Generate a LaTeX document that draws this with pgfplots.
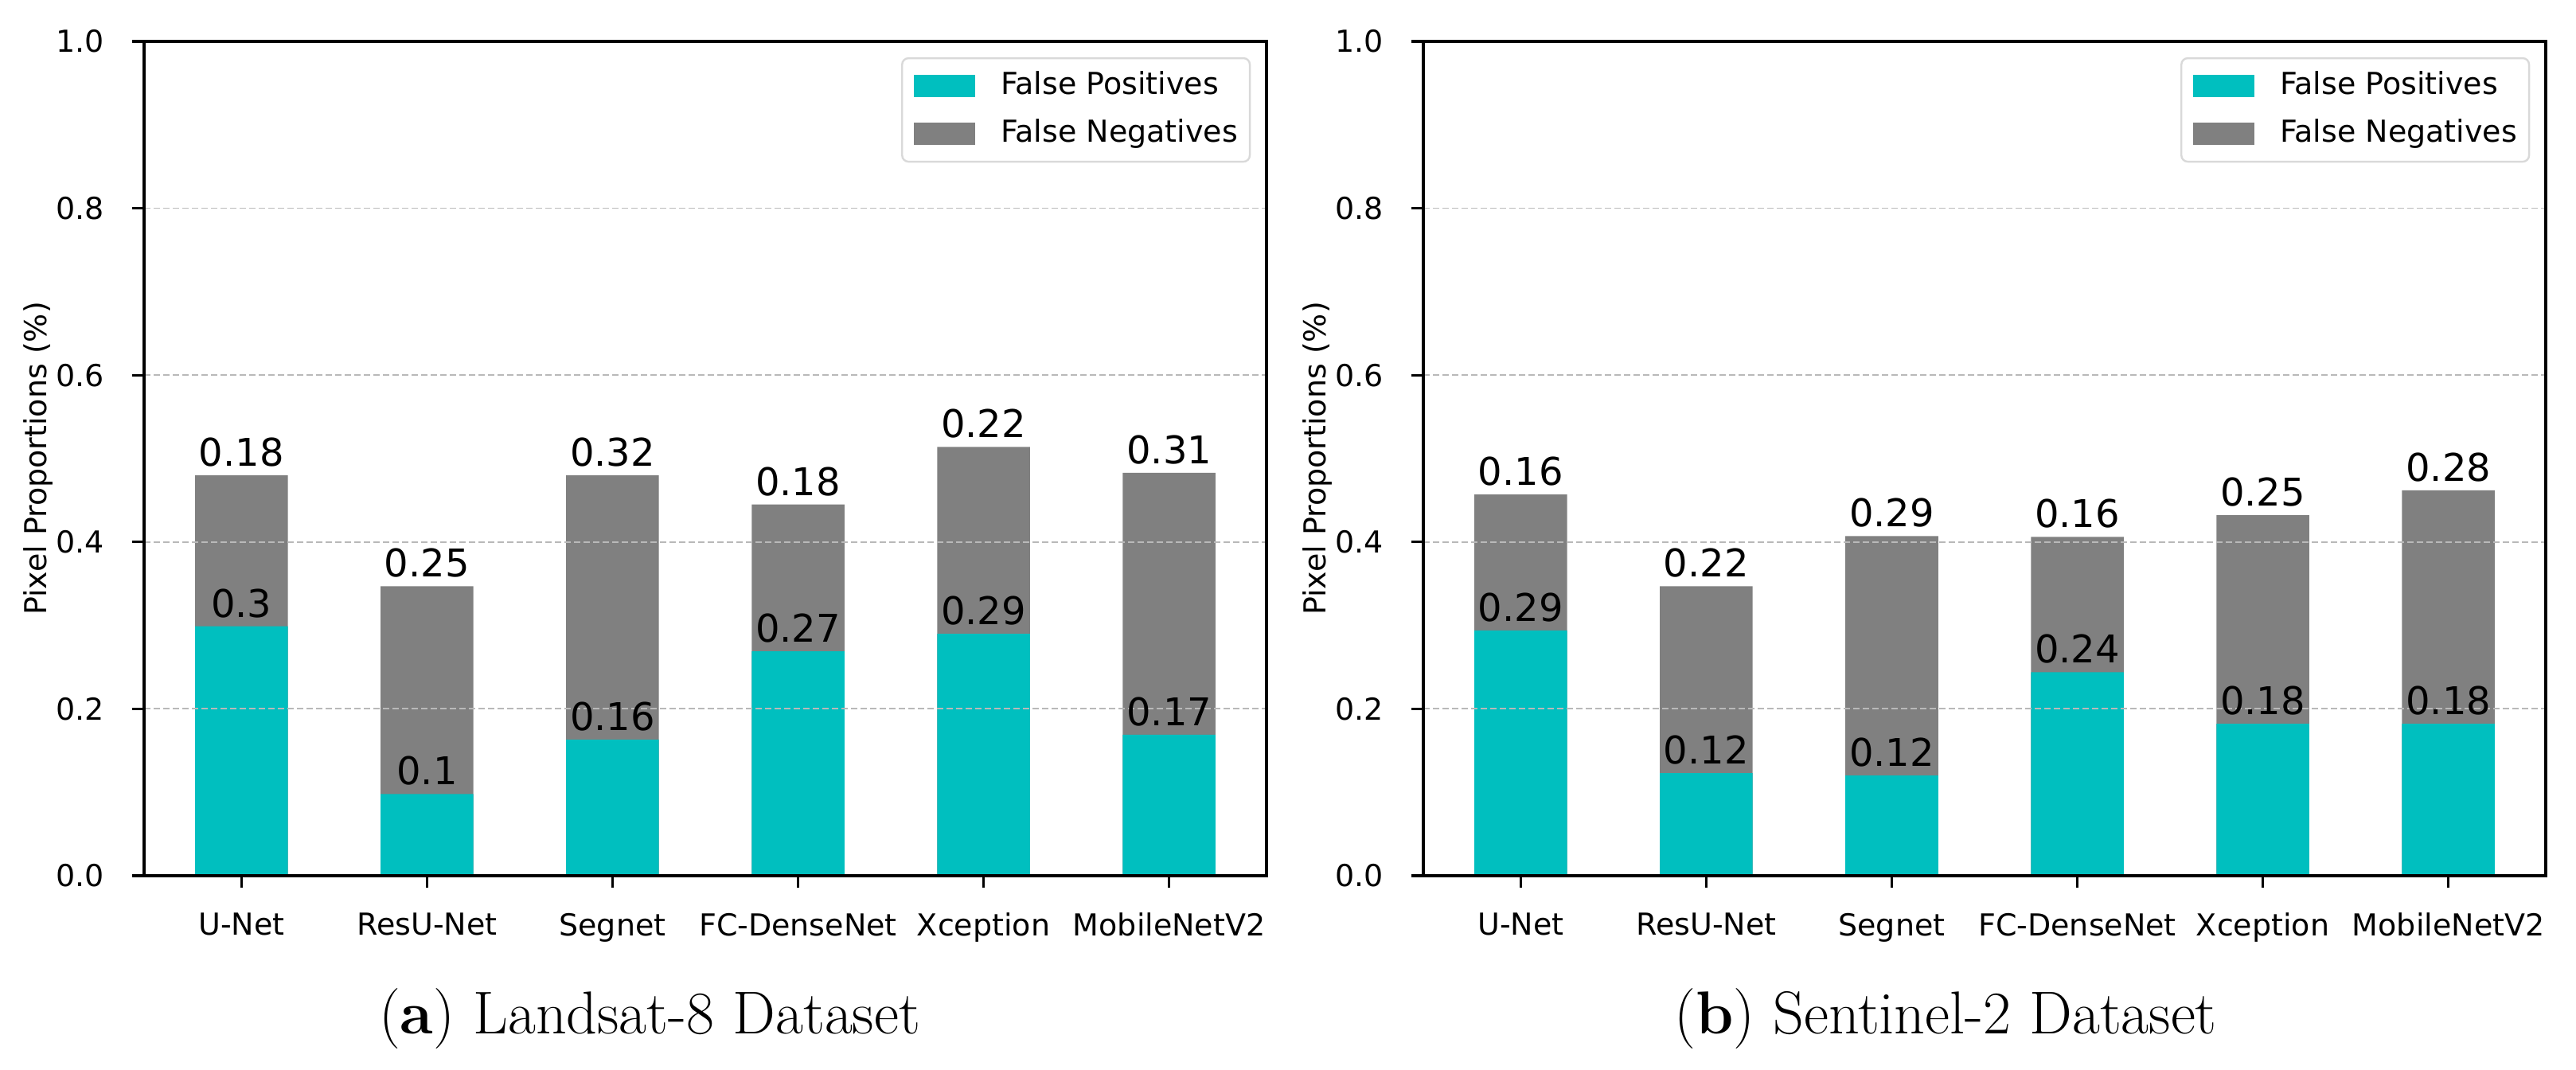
\documentclass[border=0pt]{standalone}
\usepackage{fontspec}
\usepackage{pgfplots}
\pgfplotsset{compat=1.18}
\usepackage{pgfplotstable}
\newfontfamily\dv{DejaVu Sans}
\definecolor{fpc}{RGB}{0,191,191}
\definecolor{fnc}{RGB}{128,128,128}

\pgfplotstableread{
x fp fn fpl fnl
0 0.299 0.181 0.3 0.18
1 0.098 0.249 0.1 0.25
2 0.163 0.317 0.16 0.32
3 0.269 0.176 0.27 0.18
4 0.290 0.224 0.29 0.22
5 0.169 0.314 0.17 0.31
}\landsat

\pgfplotstableread{
x fp fn fpl fnl
0 0.294 0.163 0.29 0.16
1 0.123 0.224 0.12 0.22
2 0.120 0.287 0.12 0.29
3 0.244 0.162 0.24 0.16
4 0.182 0.250 0.18 0.25
5 0.182 0.280 0.18 0.28
}\sentinel

\pgfplotsset{
  myaxis/.style={
    width=352.5pt, height=262pt, scale only axis,
    ybar,
    xmin=-0.525, xmax=5.525, ymin=0, ymax=1,
    xtick={0,1,2,3,4,5},
    xticklabels={U-Net,ResU-Net,Segnet,FC-DenseNet,Xception,MobileNetV2},
    ytick={0,0.2,0.4,0.6,0.8,1},
    yticklabels={0.0,0.2,0.4,0.6,0.8,1.0},
    tick pos=left, tick align=outside,
    major tick length=3.75pt,
    every tick/.style={black, line width=0.8pt},
    axis line style={line width=0.8pt},
    ymajorgrids,
    grid style={gray!55, line width=0.45pt, dash pattern=on 2pt off 1pt},
    axis on top,
    tick label style={font=\dv\fontsize{9.5}{11}\selectfont, black},
    xticklabel style={yshift=-4.5pt},
    yticklabel style={xshift=-5.25pt},
    ylabel={Pixel Proportions (\%)},
    ylabel style={font=\dv\fontsize{9.5}{11}\selectfont, at={(axis description cs:-0.0943,0.5)}, anchor=center},
    bar width=0.5,
    nodes near coords,
    point meta=explicit symbolic,
    every node near coord/.append style={font=\dv\fontsize{12}{14}\selectfont, black, anchor=base, yshift=2.9pt, inner sep=0pt},
    legend style={at={(0.986,0.981)}, anchor=north east, draw=black!15, line width=0.6pt,
      rounded corners=2pt, fill=white, font=\dv\fontsize{9.5}{11}\selectfont,
      inner xsep=3.75pt, inner ysep=4.25pt, row sep=6pt, column sep=8pt,
      nodes={inner sep=0pt, text height=7pt, text depth=2pt}},
    legend cell align=left,
    reverse legend,
    legend image code/.code={\fill[#1,draw=none,sharp corners] (0pt,-3.6pt) rectangle (19.25pt,3.6pt);},
  }
}

\begin{document}
\begin{tikzpicture}
\path[use as bounding box] (0,0) rectangle (809pt,336pt);

\begin{axis}[myaxis, at={(45.25pt,61pt)}, anchor=south west]
\addplot[fill=fnc, draw=none, bar shift=0pt] table[x=x, y expr=\thisrow{fp}+\thisrow{fn}, meta=fnl]{\landsat};
\addlegendentry{False Negatives}
\addplot[fill=fpc, draw=none, bar shift=0pt] table[x=x, y=fp, meta=fpl]{\landsat};
\addlegendentry{False Positives}
\end{axis}

\begin{axis}[myaxis, at={(447pt,61pt)}, anchor=south west]
\addplot[fill=fnc, draw=none, bar shift=0pt] table[x=x, y expr=\thisrow{fp}+\thisrow{fn}, meta=fnl]{\sentinel};
\addlegendentry{False Negatives}
\addplot[fill=fpc, draw=none, bar shift=0pt] table[x=x, y=fp, meta=fpl]{\sentinel};
\addlegendentry{False Positives}
\end{axis}

\node[font=\fontsize{19}{22}\selectfont, inner sep=0pt] at (204pt,16pt) {(\textbf{a}) Landsat-8 Dataset};
\node[font=\fontsize{19}{22}\selectfont, inner sep=0pt] at (611pt,16pt) {(\textbf{b}) Sentinel-2 Dataset};
\end{tikzpicture}
\end{document}
